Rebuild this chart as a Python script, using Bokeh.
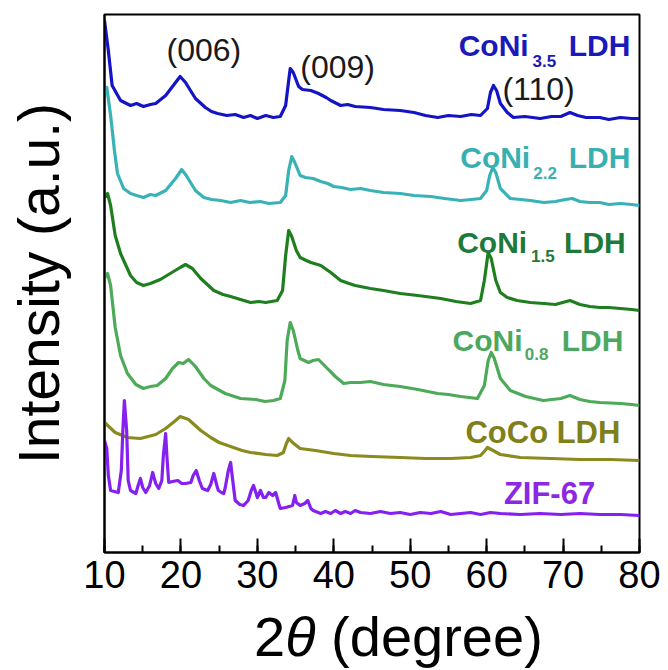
from bokeh.plotting import figure
from bokeh.models import Range1d, SingleIntervalTicker, FixedTicker, Label, Div
from bokeh.layouts import column
from bokeh.embed import file_html
from bokeh.resources import INLINE

# ---- data (2theta in degree, intensity in a.u. incl. vertical offset) ----
coni35_x = [10.0, 10.5, 11.0, 12.1, 13.4, 14.2, 15.1, 16.0, 16.7, 18.0, 19.3, 19.9, 20.6, 21.9, 23.2, 24.0, 24.8, 26.0,
            27.1, 28.2, 29.1, 30.0, 31.1, 32.1, 33.0, 33.7, 34.1, 34.3, 34.7, 35.4, 35.9, 37.0, 38.0, 39.0, 39.6, 40.9,
            41.8, 42.8, 44.8, 46.5, 48.7, 50.5, 52.0, 53.6, 55.0, 56.6, 58.0, 59.2, 60.1, 60.5, 60.9, 61.3, 61.8, 62.7,
            63.5, 65.0, 67.0, 68.5, 69.7, 70.9, 71.9, 73.0, 74.8, 76.0, 77.5, 79.0, 80.0]
coni35_y = [532, 502, 467, 452, 447, 449, 446, 448, 449, 457, 470, 476, 470, 454, 445, 441, 439, 437,
            438, 435, 437, 434, 437, 435, 436, 447, 472, 484, 480, 466, 463, 462, 459, 455, 452, 447,
            448, 446, 445, 443, 442, 440, 437, 435, 437, 436, 438, 437, 444, 460, 467, 462, 449, 440,
            435, 436, 434, 436, 436, 440, 437, 435, 435, 433, 435, 434, 434]

coni22_x = [10.0, 10.3, 10.8, 11.3, 11.7, 12.5, 13.4, 14.2, 15.1, 16.0, 16.7, 18.0, 19.3, 20.1, 20.7, 21.9, 23.0,
            24.0, 25.2, 26.5, 27.8, 29.0, 30.4, 31.5, 33.0, 33.7, 34.1, 34.5, 34.9, 35.6, 36.3, 37.3, 38.3, 39.2,
            40.0, 41.0, 42.2, 43.5, 44.8, 46.5, 48.7, 50.5, 52.7, 54.5, 56.6, 58.0, 59.2, 60.0, 60.4, 60.8, 61.2,
            61.8, 63.1, 64.5, 65.7, 67.5, 69.0, 70.3, 71.2, 72.2, 73.5, 74.8, 76.0, 77.5, 79.0, 80.0]
coni22_y = [460, 465, 437, 402, 379, 364, 359, 357, 355, 358, 357, 362, 374, 383, 377, 362, 355,
            353, 352, 350, 352, 350, 351, 349, 350, 357, 382, 396, 390, 377, 375, 374, 371, 369,
            366, 365, 363, 364, 362, 360, 359, 357, 356, 354, 352, 353, 354, 362, 377, 385, 380,
            364, 354, 353, 352, 350, 351, 353, 354, 351, 350, 350, 348, 349, 348, 347]

coni15_x = [10.0, 10.4, 10.8, 11.4, 12.1, 13.4, 14.2, 15.1, 16.0, 17.3, 18.6, 19.9, 20.6, 21.5, 22.6, 24.3,
            25.5, 26.5, 27.8, 29.1, 30.2, 31.1, 32.6, 33.3, 33.7, 34.1, 34.5, 35.1, 35.6, 36.4, 37.0, 38.3,
            39.6, 40.9, 42.0, 42.8, 44.8, 46.5, 48.7, 51.0, 54.0, 56.0, 57.9, 59.2, 59.7, 60.2, 60.6, 61.2,
            61.8, 62.7, 64.0, 65.7, 67.5, 69.0, 70.9, 72.2, 73.5, 74.8, 76.0, 77.5, 79.0, 80.0]
coni15_y = [355, 359, 347, 317, 299, 277, 270, 267, 269, 273, 279, 285, 288, 284, 274, 262,
            258, 256, 253, 250, 251, 250, 252, 262, 297, 322, 316, 302, 295, 292, 290, 287,
            280, 272, 269, 267, 264, 262, 259, 257, 254, 251, 249, 252, 272, 300, 294, 272,
            260, 255, 252, 250, 249, 248, 252, 248, 246, 245, 245, 244, 243, 242]

coni08_x = [10.0, 10.4, 10.8, 11.4, 12.1, 13.0, 14.1, 15.1, 16.0, 16.9, 18.0, 18.9, 19.7, 20.3, 21.0, 21.9,
            23.0, 23.9, 25.8, 27.8, 29.8, 31.0, 32.1, 33.0, 33.6, 33.9, 34.3, 34.7, 35.3, 35.6, 36.7, 37.3,
            38.0, 38.9, 40.2, 41.3, 42.2, 43.5, 44.8, 46.5, 48.7, 51.0, 53.6, 55.0, 56.6, 58.8, 59.7, 60.2,
            60.6, 61.0, 61.8, 63.1, 65.1, 67.4, 69.7, 70.9, 72.2, 73.5, 74.8, 77.5, 79.0, 80.0]
coni08_y = [274, 279, 267, 225, 197, 179, 168, 164, 166, 167, 174, 184, 190, 189, 193, 186,
            174, 167, 159, 154, 153, 151, 152, 154, 172, 212, 230, 222, 202, 194, 190, 192,
            193, 186, 176, 169, 170, 170, 171, 168, 166, 163, 159, 158, 156, 154, 167, 192,
            200, 194, 174, 162, 156, 152, 154, 157, 153, 151, 150, 149, 148, 147]

coco_x = [10.0, 11.4, 13.0, 14.7, 16.7, 18.0, 19.3, 19.9, 21.0, 22.6, 23.9, 25.0, 26.5, 28.0, 29.1, 31.1,
          32.6, 33.4, 33.8, 34.1, 34.6, 35.6, 37.6, 40.0, 42.2, 45.0, 48.7, 52.0, 55.3, 57.9, 59.2, 59.8,
          60.1, 60.6, 61.8, 64.4, 68.4, 72.2, 76.2, 80.0]
coco_y = [130, 120, 115, 114, 118, 124, 132, 136, 133, 122, 115, 110, 106, 102, 100, 98,
          97, 100, 109, 114, 110, 104, 102, 99, 97, 96, 95, 94, 94, 95, 97, 102,
          105, 103, 98, 95, 94, 93, 93, 92]

zif67_x = [10.0, 10.3, 10.5, 10.8, 11.8, 12.2, 12.4, 12.6, 12.9, 13.1, 13.4, 14.1, 14.4, 14.7, 15.0, 15.4,
           15.9, 16.3, 16.7, 17.1, 17.5, 17.7, 18.0, 18.2, 18.4, 18.9, 19.6, 20.1, 20.6, 21.3, 21.6, 22.0,
           22.4, 22.8, 23.5, 23.9, 24.3, 24.7, 24.9, 25.3, 25.6, 25.8, 26.2, 26.5, 26.7, 27.1, 27.7, 28.2,
           28.8, 29.2, 29.5, 29.8, 30.0, 30.4, 30.8, 31.1, 31.5, 32.0, 32.4, 32.8, 33.0, 33.7, 34.6, 34.9,
           35.1, 35.6, 36.2, 36.6, 37.0, 37.3, 38.3, 38.9, 39.6, 40.2, 40.9, 41.5, 42.2, 42.8, 43.5, 44.8,
           46.1, 47.4, 48.7, 50.0, 51.3, 52.7, 54.0, 55.3, 56.6, 57.9, 59.2, 60.5, 61.8, 64.4, 67.0, 69.7,
           72.2, 74.8, 77.5, 80.0]
zif67_y = [112, 104, 77, 62, 60, 82, 122, 152, 122, 72, 62, 59, 67, 74, 65, 60,
           67, 80, 69, 64, 72, 97, 119, 92, 70, 71, 72, 69, 69, 70, 77, 82,
           72, 64, 62, 68, 79, 67, 62, 60, 59, 65, 82, 90, 77, 52, 48, 47,
           52, 62, 67, 60, 55, 62, 55, 55, 60, 57, 60, 49, 44, 45, 47, 57,
           50, 47, 49, 52, 44, 42, 39, 41, 39, 42, 39, 41, 39, 42, 40, 39,
           41, 39, 40, 38, 40, 39, 41, 38, 39, 40, 38, 40, 39, 38, 39, 38,
           39, 38, 38, 37]

FONT = "Liberation Sans"

p = figure(width=668, height=605, output_backend="svg", toolbar_location=None,
           x_range=Range1d(10, 80), y_range=Range1d(0, 538),
           min_border_left=104, min_border_right=29, min_border_top=14, min_border_bottom=53)
p.background_fill_color = "white"
p.border_fill_color = "white"
p.grid.visible = False
p.outline_line_color = "black"
p.outline_line_width = 2

xa = p.xaxis[0]
xa.ticker = SingleIntervalTicker(interval=10, num_minor_ticks=2)
xa.axis_line_width = 2
xa.axis_line_color = "black"
xa.major_tick_in = 14
xa.major_tick_out = 0
xa.minor_tick_in = 7
xa.minor_tick_out = 0
xa.major_tick_line_width = 2
xa.minor_tick_line_width = 2
xa.major_tick_line_color = "black"
xa.minor_tick_line_color = "black"
xa.major_label_text_font = FONT
xa.major_label_text_font_size = "38px"
xa.major_label_text_color = "black"
xa.major_label_standoff = 8

ya = p.yaxis[0]
ya.ticker = FixedTicker(ticks=[])
ya.major_label_text_font_size = "0px"
ya.major_tick_line_color = None
ya.minor_tick_line_color = None
ya.axis_line_color = "black"
ya.axis_line_width = 2
ya.axis_label = "Intensity (a.u.)"
ya.axis_label_text_font = FONT
ya.axis_label_text_font_size = "57px"
ya.axis_label_text_font_style = "normal"
ya.axis_label_text_color = "black"
ya.axis_label_standoff = 34

series = [
    (coni35_x, coni35_y, "#1414c4"),
    (coni22_x, coni22_y, "#38b2b6"),
    (coni15_x, coni15_y, "#1f7f1f"),
    (coni08_x, coni08_y, "#4caa58"),
    (coco_x, coco_y, "#8a8a1e"),
    (zif67_x, zif67_y, "#8420f0"),
]
for xs, ys, c in series:
    p.line(xs, ys, line_color=c, line_width=3.2, line_join="round")

def lab(x, y, text, color, size, align="left", bold=True, baseline="alphabetic"):
    p.add_layout(Label(x=x, y=y, text=text, text_color=color, text_font=FONT,
                       text_font_size=size, text_font_style="bold" if bold else "normal",
                       text_align=align, text_baseline=baseline))

# sample labels with subscripts
subs = [
    ("3.5", 65.5, 66.0, 78.8, 507, 492, "#1a1ab8"),
    ("2.2", 65.7, 66.1, 78.8, 395, 380, "#38b0b2"),
    ("1.5", 65.3, 65.8, 78.2, 310, 297, "#1e7a3a"),
    ("0.8", 64.7, 65.0, 77.9, 212, 199, "#4ca860"),
]
for sub, xc, xs, xr, yb, ys, col in subs:
    lab(xc, yb, "CoNi", col, "30px", align="right")
    lab(xs, ys, sub, col, "17px", align="left")
    lab(xr, yb, "LDH", col, "30px", align="right")
lab(77.5, 120, "CoCo LDH", "#7f7f1c", "31px", align="right")
lab(74.2, 59, "ZIF-67", "#8c28e2", "31px", align="right")

# peak indices
lab(23.0, 503, "(006)", "#1a1a1a", "32px", align="center", bold=False, baseline="middle")
lab(40.5, 486, "(009)", "#1a1a1a", "32px", align="center", bold=False, baseline="middle")
lab(66.8, 464, "(110)", "#1a1a1a", "32px", align="center", bold=False, baseline="middle")

# x axis title (with italic theta)
title = Div(
    text=('<div style="margin-left:254px;margin-top:4px;font-family:\'Liberation Sans\';'
          'font-size:56px;line-height:56px;white-space:nowrap;color:black">'
          '2<i>&theta;</i> (degree)</div>'),
    width=668, height=65, margin=(0, 0, 0, 0))

layout = column(p, title, spacing=0)
open("out.html", "w").write(file_html(layout, INLINE))
